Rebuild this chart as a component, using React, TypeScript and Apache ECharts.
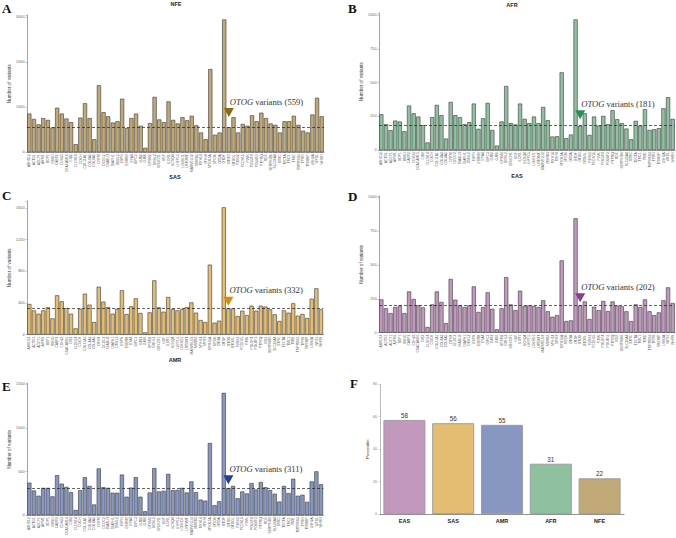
import React, { useEffect, useRef } from "react";
import * as echarts from "echarts";

const genes = [
  "ABHD12","ACTG1","ADCY1","AIFM1","BDP1","BSND","CABP2","CDH23","CEACAM16","CIB2",
  "CLDN14","COCH","COL11A1","COL4A3","COL4A5","CRYM","DCDC2","DIABLO","DIAPH1","DMXL2",
  "ESPN","ESRRB","EYA4","GIPC3","GJB2","GJB6","GPSM2","GRHL2","GRXCR1","HGF",
  "ILDR1","KCNQ4","LHFPL5","LOXHD1","LRTOMT","MARVELD2","MSRB3","MYH14","MYH9","MYO15A",
  "MYO6","OTOA","OTOF","OTOG","OTOGL","P2RX2","PCDH15","PJVK","POU3F4","POU4F3",
  "PTPRQ","RDX","SERPINB6","SLC26A4","STRC","TECTA","TMC1","TMIE","TMPRSS3","TPRN",
  "TRIOBP","USH2A","WFS1","WHRN"
];

const nfe = [860,740,620,760,720,550,990,860,750,670,180,770,1090,760,290,1490,890,800,660,690,1190,540,760,860,590,100,650,1230,730,670,1130,720,640,780,710,810,600,440,290,1850,390,440,2950,559,780,440,630,590,820,690,880,760,640,610,440,690,690,810,610,480,440,840,1210,800];
const afr = [266,192,148,219,212,140,330,273,249,185,57,244,335,259,86,357,259,244,192,207,345,158,236,350,150,34,212,475,200,190,345,232,200,249,200,320,222,101,103,576,89,116,968,181,273,113,249,182,254,192,296,229,200,160,81,217,182,303,150,155,163,310,392,232];
const sas = [387,307,265,307,345,206,497,421,337,265,80,328,518,379,160,606,417,349,265,328,560,261,358,459,274,29,282,686,345,290,476,324,307,324,349,408,278,185,160,884,152,177,1608,332,332,236,303,248,366,303,366,354,320,257,173,307,278,396,240,261,211,455,585,320];
const eas = [246,180,145,190,200,145,305,249,202,187,42,209,305,227,71,397,244,202,190,202,342,153,190,298,177,25,180,411,209,167,310,197,202,197,190,239,158,118,130,534,86,91,845,202,231,101,192,167,234,160,231,200,195,158,86,209,190,246,158,130,150,239,335,219];
const amr = [372,283,223,313,313,216,458,361,324,264,60,287,435,335,123,536,320,313,257,257,465,212,316,435,212,45,260,540,272,279,473,287,290,313,260,387,264,179,167,826,115,160,1399,311,335,194,272,249,368,294,380,320,287,246,156,335,253,417,223,234,153,387,502,354];

const otogCounts = { NFE: 559, AFR: 181, SAS: 332, EAS: 202, AMR: 311 };

const popCategories = ["EAS", "SAS", "AMR", "AFR", "NFE"];
const percentiles = [58, 56, 55, 31, 22];

const popColors: Record<string, string> = {
  EAS: "#c298bf",
  SAS: "#e4bd72",
  AMR: "#8896c2",
  AFR: "#8fc0a0",
  NFE: "#c0a877",
};
const arrowColors: Record<string, string> = {
  NFE: "#8b6a12",
  AFR: "#22915a",
  SAS: "#d98a0c",
  EAS: "#8e3a8e",
  AMR: "#263f90",
};

const panels = [
  { pop: "NFE", data: nfe, letter: "A", grid: { left: 27, top: 15, width: 297, height: 137.3 }, max: 3050, interval: 1000, arrowVal: 884, title: [176, 4], letterPos: [2, 2] },
  { pop: "AFR", data: afr, letter: "B", grid: { left: 379, top: 13, width: 296, height: 137.2 }, max: 1015, interval: 250, arrowVal: 263, title: [512, 5], letterPos: [348, 2] },
  { pop: "SAS", data: sas, letter: "C", grid: { left: 27, top: 200.8, width: 296.3, height: 133.9 }, max: 1690, interval: 400, arrowVal: 422, title: [175, 177], letterPos: [2, 189] },
  { pop: "EAS", data: eas, letter: "D", grid: { left: 379, top: 196, width: 296, height: 136.7 }, max: 1010, interval: 250, arrowVal: 258, title: [517, 176], letterPos: [348, 190] },
  { pop: "AMR", data: amr, letter: "E", grid: { left: 27, top: 383.2, width: 296.3, height: 135.1 }, max: 1510, interval: 500, arrowVal: 406, title: [175, 360], letterPos: [2, 380] },
];

const axisGray = "#8a8a8a";

export default function App() {
  const ref = useRef<HTMLDivElement>(null);
  useEffect(() => {
    if (!ref.current) return;
    const chart = echarts.init(ref.current, undefined, { renderer: "svg" });
    const grids: any[] = [];
    const xAxes: any[] = [];
    const yAxes: any[] = [];
    const series: any[] = [];
    const graphics: any[] = [];

    panels.forEach((p, i) => {
      grids.push({ ...p.grid });
      xAxes.push({
        type: "category",
        gridIndex: i,
        data: genes,
        axisLine: { lineStyle: { color: axisGray, width: 0.8 } },
        axisTick: { length: 1.5, lineStyle: { color: axisGray, width: 0.5 }, alignWithLabel: true },
        axisLabel: { interval: 0, rotate: 90, fontSize: 3.3, color: "#555", margin: 2, fontFamily: "Liberation Sans" },
      });
      const interval = p.interval;
      yAxes.push({
        type: "value",
        gridIndex: i,
        min: 0,
        max: p.max,
        interval,
        splitLine: { show: false },
        axisLine: { show: true, lineStyle: { color: axisGray, width: 0.8 } },
        axisTick: { show: true, length: 1.5, lineStyle: { color: axisGray, width: 0.5 } },
        axisLabel: {
          fontSize: 3.8,
          color: "#666",
          margin: 2.5,
          fontFamily: "Liberation Sans",
          formatter: (v: number) => (v % interval === 0 ? String(v) : ""),
        },
        name: "Number of variants",
        nameLocation: "middle",
        nameGap: 13,
        nameTextStyle: { fontSize: 4.6, color: "#333", fontFamily: "Liberation Sans" },
      });
      const otog = (otogCounts as any)[p.pop];
      series.push({
        type: "bar",
        xAxisIndex: i,
        yAxisIndex: i,
        data: p.data,
        barCategoryGap: "10%",
        itemStyle: { color: popColors[p.pop], borderColor: "#3a3a3a", borderWidth: 0.6 },
        markLine: {
          silent: true,
          symbol: "none",
          label: { show: false },
          lineStyle: { type: [3, 2], color: "#222", width: 0.7 },
          data: [{ yAxis: otog }],
        },
        markPoint: {
          silent: true,
          symbol: "triangle",
          symbolRotate: 180,
          symbolSize: [10, 9],
          itemStyle: { color: arrowColors[p.pop] },
          data: [{ coord: ["OTOG", p.arrowVal] }],
          label: {
            show: true,
            position: "right",
            distance: 0,
            offset: [-4, -11],
            formatter: "{i|OTOG} variants (" + otog + ")",
            fontFamily: "Liberation Serif",
            fontSize: 8.6,
            color: "#333",
            rich: {
              i: { fontStyle: "italic", fontFamily: "Liberation Serif", fontSize: 8.6, color: "#333" },
            },
          },
        },
      });
      graphics.push({
        type: "text",
        x: p.title[0],
        y: p.title[1],
        style: { text: p.pop, align: "center", verticalAlign: "middle", fontSize: 5.5, fontWeight: "bold", fontFamily: "Liberation Sans", fill: "#222" },
      });
      graphics.push({
        type: "text",
        x: p.letterPos[0],
        y: p.letterPos[1],
        style: { text: p.letter, align: "left", verticalAlign: "top", fontSize: 13, fontWeight: "bold", fontFamily: "Liberation Serif", fill: "#111" },
      });
    });

    // Panel F
    const fi = panels.length;
    grids.push({ left: 380, top: 384.3, width: 244, height: 129.7 });
    xAxes.push({
      type: "category",
      gridIndex: fi,
      data: popCategories,
      axisLine: { lineStyle: { color: "#777", width: 0.8 } },
      axisTick: { show: false },
      axisLabel: { fontSize: 5.5, fontWeight: "bold", color: "#222", margin: 4, fontFamily: "Liberation Sans" },
    });
    yAxes.push({
      type: "value",
      gridIndex: fi,
      min: 0,
      max: 80,
      interval: 20,
      splitLine: { show: false },
      axisLine: { show: true, lineStyle: { color: "#aaa", width: 0.8 } },
      axisTick: { show: true, length: 1.5, lineStyle: { color: "#aaa", width: 0.5 } },
      axisLabel: { fontSize: 3.6, color: "#777", margin: 3, fontFamily: "Liberation Sans" },
      name: "Percentile",
      nameLocation: "middle",
      nameGap: 10,
      nameTextStyle: { fontSize: 4.4, color: "#333", fontFamily: "Liberation Sans" },
    });
    series.push({
      type: "bar",
      xAxisIndex: fi,
      yAxisIndex: fi,
      barCategoryGap: "14%",
      data: percentiles.map((v, i) => ({ value: v, itemStyle: { color: popColors[popCategories[i]] } })),
      itemStyle: { borderColor: "#9a9a9a", borderWidth: 0.9 },
      label: { show: true, position: "top", distance: 1.5, fontSize: 6.3, color: "#333", fontFamily: "Liberation Sans" },
    });
    graphics.push({
      type: "text",
      x: 350,
      y: 377,
      style: { text: "F", align: "left", verticalAlign: "top", fontSize: 13, fontWeight: "bold", fontFamily: "Liberation Serif", fill: "#111" },
    });

    chart.setOption({
      animation: false,
      backgroundColor: "#ffffff",
      grid: grids,
      xAxis: xAxes,
      yAxis: yAxes,
      series,
      graphic: graphics,
    });
    return () => chart.dispose();
  }, []);
  return <div ref={ref} style={{ position: "absolute", left: 0, top: 0, width: 676, height: 538 }} />;
}
